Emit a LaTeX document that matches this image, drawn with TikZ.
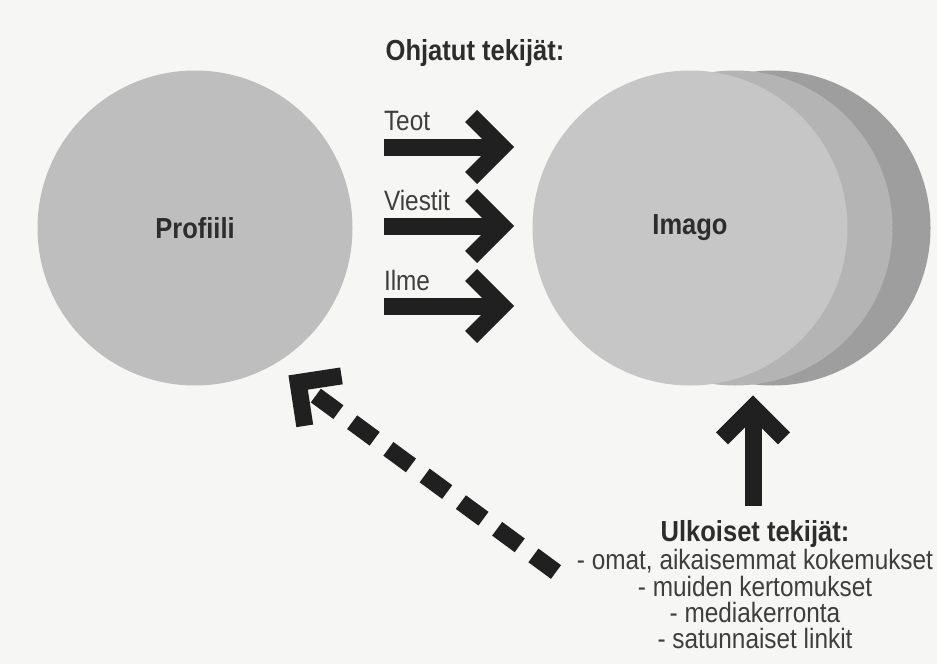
\documentclass[tikz,border=0pt]{standalone}
\usepackage{fontspec}
\setmainfont{Liberation Sans}[FakeStretch=0.87, BoldFeatures={FakeStretch=0.88}]
\usetikzlibrary{arrows.meta, positioning}
\definecolor{paper}{RGB}{246,246,244}
\definecolor{ink}{RGB}{32,32,32}
\definecolor{dark}{RGB}{45,45,45}
\definecolor{soft}{RGB}{62,62,62}
\definecolor{profgray}{RGB}{190,190,190}
\definecolor{frontgray}{RGB}{198,198,198}
\definecolor{midgray}{RGB}{180,180,180}
\definecolor{backgray}{RGB}{158,158,158}

\begin{document}
\begin{tikzpicture}[
    x=0.5pt, y=-0.5pt,
    ball/.style={circle, inner sep=0pt, minimum size=157.5pt, font=\fontsize{14.5}{16}\selectfont\bfseries, text=dark},
    hdr/.style={font=\fontsize{14.5}{16}\selectfont\bfseries, text=dark, inner sep=0pt},
    lbl/.style={font=\fontsize{14}{13.2}\selectfont, text=soft, inner sep=0pt, outer sep=0pt},
    bigarr/.style={-{Straight Barb[length=15.5pt, width=31pt]}, line width=8.5pt, ink},
]
\fill[paper] (0,0) rectangle (937,664);
\useasboundingbox (0,0) rectangle (937,664);

% circles
\node[ball, fill=profgray] (profiili) at (195,228) {Profiili};
\node[ball, fill=backgray] (imago3) at (773,228) {};
\node[ball, fill=midgray] (imago2) at (735,228) {};
\node[ball, fill=frontgray] (imago) at (690,228) {Imago};

% headings and lists
\node[hdr, anchor=base] (ohjatut) at (475,60) {Ohjatut tekijät:};
\node[hdr, anchor=base] (ulkoiset) at (755,541) {Ulkoiset tekijät:};
\node[lbl, align=center, below=1pt of ulkoiset] (syyt) {- omat, aikaisemmat kokemukset\\- muiden kertomukset\\- mediakerronta\\- satunnaiset linkit};

\coordinate (teot-s) at (384,147);
\coordinate (viestit-s) at (384,226);
\coordinate (ilme-s) at (384,306);
\coordinate (ulk-s) at (753,506);
\coordinate (muistot-s) at (556,572);

\draw[bigarr, shorten >=9pt] (teot-s) -- node[lbl, pos=0, anchor=base west, yshift=8.5pt] (teot) {Teot} (teot-s -| imago.west);
\draw[bigarr, shorten >=9pt] (viestit-s) -- node[lbl, pos=0, anchor=base west, yshift=8pt] (viestit) {Viestit} (viestit-s -| imago.west);
\draw[bigarr, shorten >=9pt] (ilme-s) -- node[lbl, pos=0, anchor=base west, yshift=8pt] (ilme) {Ilme} (ilme-s -| imago.west);
\draw[bigarr, shorten >=4.75pt] (ulk-s) -- (ulk-s |- imago.south);
\draw[bigarr, dash pattern=on 14pt off 8.5pt, shorten >=9pt] (muistot-s) -- (profiili.-60);
\end{tikzpicture}
\end{document}
